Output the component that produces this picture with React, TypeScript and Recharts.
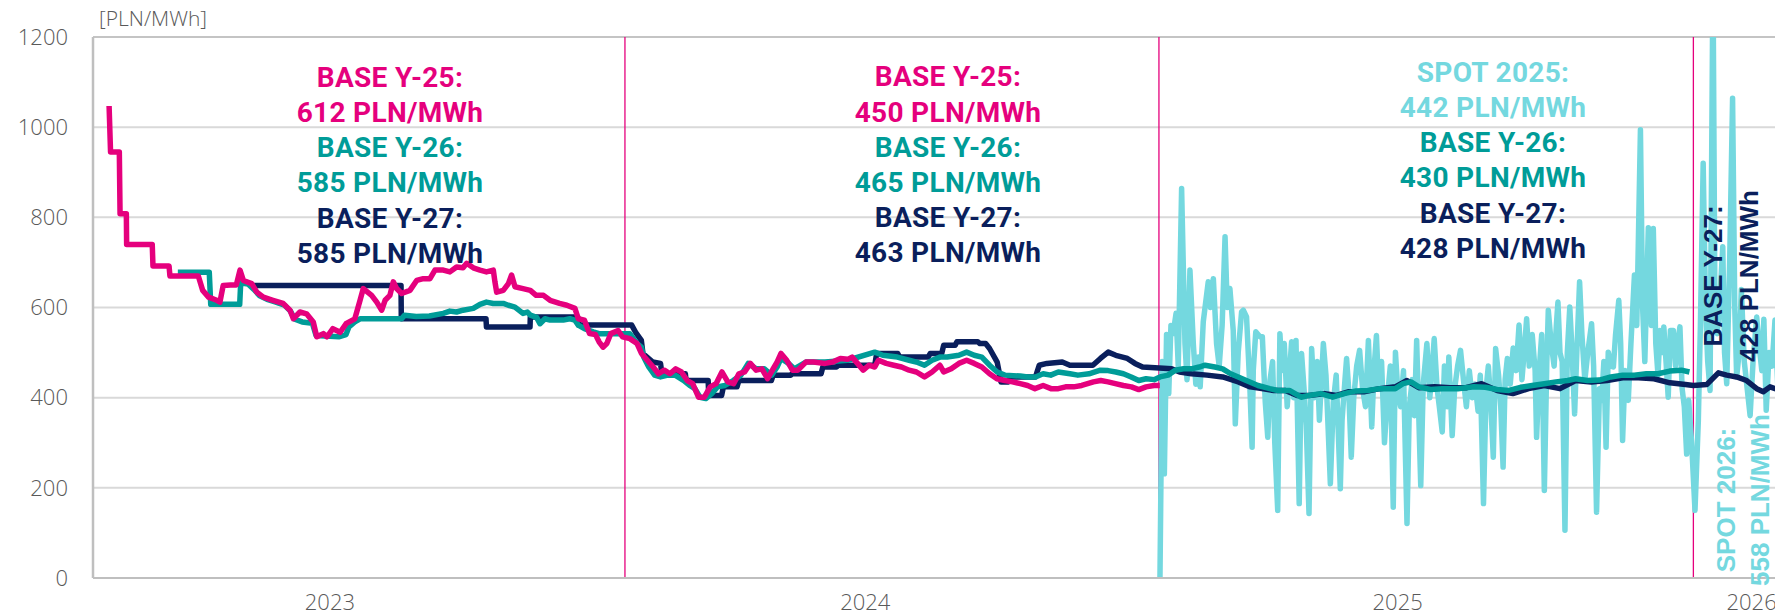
import React from 'react';
import {
    LineChart,
    Line,
    XAxis,
    YAxis,
    CartesianGrid,
    ReferenceLine
} from 'recharts';

const MAGENTA = '#E5007D';
const TEAL = '#009C98';
const NAVY = '#0A1F5C';
const CYAN = '#74D8DF';
const GREY = '#595959';

// x = days since 2023-01-01, y = PLN/MWh
const yearTicks = [162, 528, 892, 1134];
const yearLabels = ['2023', '2024', '2025', '2026'];
const yearStarts = [363.7, 728.8, 1094.2];
const priceTicks = [0, 200, 400, 600, 800, 1000, 1200];

const baseY25: [number, number][] = [
    [11, 1047], [12, 945], [18, 945], [18.5, 808], [22.8, 808], [23, 740], [40.5, 740], [41, 692], [52, 692], [52.6, 670],
    [72, 670], [75, 638], [79, 623], [84.6, 616], [86.8, 612], [89, 649], [94, 650], [98, 650], [100.5, 683], [102.8, 660],
    [108.5, 653], [112, 634], [116.5, 623], [123, 616], [130, 609], [134.7, 594], [137, 575], [141.5, 590], [146, 586], [150.6, 568],
    [153, 535], [157.5, 542], [160, 535], [164, 553], [169, 545], [173, 564], [179, 575], [182.6, 616], [184.8, 642], [190.5, 627],
    [194, 612], [197.4, 594], [199.7, 616], [203, 627], [205.3, 657], [207.6, 642], [211, 631], [216.7, 638], [221.3, 660], [225.8, 664],
    [230.4, 664], [233.8, 683], [239.5, 683], [244, 679], [248.6, 690], [253, 688], [255.5, 698], [260, 688], [264.6, 683], [269, 679],
    [273.7, 683], [274.8, 657], [276, 634], [280.5, 638], [284, 653], [286.2, 672], [288.5, 646], [294, 642], [299, 638], [303, 627],
    [308, 627], [312.5, 616], [319, 609], [324, 605], [329.5, 598], [331.8, 575], [336, 572], [339.5, 542], [343.5, 540], [346, 524],
    [348.7, 512], [351.3, 520], [354, 542], [359, 549], [362, 535], [367, 531], [372, 520], [375, 498], [379, 483], [383, 468],
    [386.6, 453], [390.6, 461], [394.5, 453], [398.4, 464], [402.3, 457], [406.3, 438], [410, 431], [414, 401], [418, 401], [422, 424],
    [426, 431], [430, 457], [434, 435], [438, 431], [441.6, 453], [445.5, 457], [449.4, 476], [453.4, 461], [457.3, 464], [461.2, 442],
    [465, 464], [467.7, 479], [470.4, 498], [474.3, 483], [478.2, 461], [482, 461], [487.4, 479], [492.6, 479], [500.5, 476], [505.7, 479],
    [511, 487], [516, 485], [519, 490], [522.7, 476], [526.6, 461], [530.5, 472], [534.5, 468], [537, 483], [542.3, 476], [547.5, 472],
    [552.8, 468], [558, 461], [563, 457], [568.5, 446], [573.7, 457], [579, 472], [581.6, 457], [586.8, 464], [592, 476], [597.3, 483],
    [602.5, 476], [607.7, 468], [613, 453], [618, 442], [623.4, 438], [628.7, 435], [634, 431], [639, 427], [644, 420], [649.6, 427],
    [655, 420], [660, 420], [665, 424], [670.5, 424], [676, 427], [684, 435], [689, 438], [694, 435], [699, 431], [704.5, 427],
    [710, 424], [715, 418], [720, 424], [725.5, 427], [729.4, 427]
];

const baseY26: [number, number][] = [
    [58, 678], [79.5, 678], [80.5, 607], [100.3, 607], [101, 655], [106, 652], [110, 640], [114, 626], [119, 618], [125, 612],
    [131, 605], [135, 592], [138, 574], [143, 568], [150, 565], [152.5, 538], [168, 535], [173, 540], [175, 557], [179, 568],
    [182.6, 575], [211, 575], [213, 583], [221, 580], [230, 581], [239.5, 587], [244, 592], [248.6, 590], [253, 594], [260, 598],
    [264.6, 607], [269, 612], [273.7, 609], [280.5, 609], [284, 605], [288.5, 601], [294, 587], [297, 590], [299, 583], [303.3, 578],
    [305.6, 564], [309, 575], [312.5, 572], [321.5, 572], [326, 575], [329.5, 572], [331.8, 561], [336, 553], [342, 546], [346, 542],
    [367, 542], [372, 520], [375, 512], [376.5, 490], [380, 468], [384, 450], [388, 446], [393, 450], [398, 450], [404, 438],
    [408, 427], [411.5, 420], [415, 401], [419, 398], [423, 409], [427, 424], [432, 427], [437.7, 438], [443, 450], [448, 476],
    [453.4, 464], [459, 464], [464, 450], [467.7, 468], [470.4, 487], [475.6, 476], [479.5, 464], [487.4, 479], [500.5, 479], [516, 483],
    [534.5, 501], [540, 494], [550, 490], [558, 483], [563, 479], [568.5, 472], [573.7, 483], [579, 490], [584, 490], [592, 494],
    [597.3, 501], [602.5, 494], [607.7, 490], [613, 472], [618.2, 457], [623.4, 450], [634, 448], [639, 446], [644.4, 446], [649.6, 453],
    [654.8, 450], [660, 457], [668, 453], [673.4, 450], [681, 453], [688.8, 461], [694, 460], [699.3, 457], [704.5, 453], [709.8, 446],
    [715, 438], [720, 442], [725.5, 440], [729.5, 446], [735, 450], [740, 461], [745.6, 464], [751, 464], [756.3, 468], [760.3, 472],
    [767, 468], [772.4, 464], [777.8, 453], [783, 446], [788.5, 438], [796.5, 427], [804.6, 420], [810, 416], [818, 416], [826, 401],
    [831.4, 405], [839.4, 409], [847.5, 401], [855.5, 409], [863.6, 415], [871.6, 416], [879.7, 420], [890.4, 420], [895.7, 431], [901.1, 435],
    [906.5, 424], [914.5, 418], [922.5, 420], [933.3, 420], [944, 424], [952, 423], [960, 418], [968, 416], [976, 423], [984, 427],
    [992.3, 431], [1000.3, 435], [1008.3, 438], [1013.7, 442], [1021.8, 438], [1029.8, 439], [1037.8, 446], [1045.9, 450], [1053.9, 450], [1062, 453],
    [1070, 453], [1078, 459], [1086, 461], [1091.5, 457]
];

const baseY27: [number, number][] = [
    [108, 649], [210.6, 649], [210.8, 575], [268.7, 575], [269, 557], [298.8, 557], [299, 579], [331.5, 579], [332, 561], [368.3, 561],
    [371, 545], [374.9, 527], [376, 498], [382.7, 479], [388, 476], [389, 453], [405, 453], [405.5, 438], [420.6, 438], [421, 405],
    [429.8, 405], [431, 424], [440.3, 424], [441.6, 438], [463.8, 438], [465, 450], [477, 450], [478, 453], [497.8, 453], [499, 468],
    [508.3, 468], [509.6, 472], [534.5, 472], [535.8, 498], [550.2, 498], [551.5, 490], [571, 490], [572.4, 498], [580.3, 498], [581.6, 516],
    [589.4, 516], [590.7, 524], [605, 524], [606.4, 520], [610.3, 520], [613, 509], [618.2, 479], [620.8, 435], [626, 435], [627.3, 446],
    [644.4, 446], [647, 472], [652.2, 476], [662.7, 479], [667.9, 472], [683.6, 472], [688.8, 487], [694.1, 501], [699.3, 494], [707.2, 487],
    [712.4, 476], [717.6, 468], [737.5, 464], [742.9, 457], [751, 453], [761.7, 450], [772.4, 446], [783.1, 435], [791.2, 424], [799.2, 420],
    [807.3, 416], [815.3, 416], [823.3, 405], [831.4, 405], [842.1, 409], [850.2, 405], [858.2, 413], [868.9, 413], [879.7, 420], [890.4, 424],
    [898.4, 438], [906.5, 422], [917.2, 424], [927.9, 422], [938.6, 422], [949.4, 431], [960.1, 416], [970.8, 409], [981.5, 420], [992.3, 427],
    [1003, 420], [1013.7, 438], [1024.4, 435], [1035.2, 438], [1045.9, 444], [1056.6, 444], [1067.3, 442], [1078.1, 433], [1088.8, 429], [1094.2, 427],
    [1103.3, 429], [1111.3, 455], [1117, 450], [1123.8, 446], [1130.6, 438], [1137.5, 420], [1142, 413], [1146.6, 424], [1152, 418]
];

const spot: [number, number][] = [
    [729.5, 0], [731, 480], [732.5, 231], [734, 540], [735.5, 409], [737, 560], [738.5, 542], [740.5, 587], [742, 470], [744.3, 864],
    [746.6, 520], [748, 440], [750, 683], [752.3, 520], [754, 430], [755.7, 490], [757, 424], [759.1, 568], [762.5, 657], [764, 600],
    [766, 664], [768.2, 520], [770, 470], [772, 560], [774, 757], [775.5, 600], [777.3, 642], [779.6, 549], [781, 342], [783, 500],
    [785.3, 590], [786.5, 594], [788.7, 579], [791, 420], [792.5, 290], [793.3, 461], [795, 546], [797.9, 535], [799.5, 535], [801.5, 390],
    [803.2, 312], [804.7, 438], [806.5, 480], [808, 300], [810, 150], [811.5, 542], [813, 460], [814.5, 520], [816.5, 380], [819.5, 524],
    [821, 400], [822.5, 527], [824.7, 165], [826.3, 498], [828, 420], [829.5, 340], [831.4, 143], [833.2, 509], [835, 400], [837, 480],
    [838.5, 350], [841.2, 520], [843, 450], [844.5, 330], [846, 209], [848, 390], [850, 450], [852.8, 198], [854, 350], [856, 440],
    [857.1, 487], [858.5, 420], [860.3, 268], [862, 400], [864, 470], [866, 505], [868, 420], [870, 380], [872, 527], [874.3, 335],
    [876, 470], [877.5, 538], [879, 420], [881, 480], [883, 300], [885, 400], [887, 470], [889, 157], [890.5, 501], [892, 420],
    [894, 380], [896, 460], [898.4, 121], [900, 380], [902, 440], [903.5, 360], [905, 527], [907.8, 205], [909.5, 430], [912, 520],
    [914, 400], [915.5, 460], [917, 531], [919, 420], [920.5, 380], [922.5, 324], [924, 470], [926, 380], [927, 490], [929.3, 316],
    [931, 420], [933, 470], [935, 505], [937, 440], [939, 380], [941, 460], [943, 400], [945, 430], [947, 370], [948.5, 450],
    [950.7, 165], [952.5, 420], [954, 470], [955.5, 400], [957.4, 268], [959, 509], [961, 450], [962.5, 380], [964.1, 246], [965.5, 440],
    [967, 487], [969, 430], [971, 510], [973, 460], [975, 561], [977, 440], [978.5, 500], [980.2, 575], [982, 470], [984, 540],
    [986, 460], [987, 312], [989, 470], [990.5, 540], [992.3, 194], [994, 480], [995, 594], [997, 520], [999, 470], [1000.5, 560],
    [1001.6, 612], [1003, 500], [1004.5, 480], [1006.4, 106], [1008, 500], [1009.7, 601], [1011, 520], [1013, 364], [1014.5, 500], [1016.4, 657],
    [1018, 540], [1020, 438], [1022, 500], [1024.6, 564], [1026, 470], [1028, 146], [1030, 420], [1031.5, 394], [1033, 480], [1034.5, 290],
    [1036, 501], [1038, 470], [1039.5, 468], [1041, 540], [1043.2, 616], [1044.5, 520], [1045.8, 305], [1047.5, 460], [1049.7, 394], [1051.5, 520],
    [1053.9, 672], [1055.5, 560], [1058, 994], [1059.5, 600], [1061, 480], [1063.4, 777], [1065.5, 560], [1066.8, 775], [1068.5, 520], [1070, 450],
    [1071.4, 549], [1073, 500], [1074, 557], [1075.5, 480], [1077, 401], [1078.5, 549], [1080.5, 549], [1082, 470], [1083.5, 520], [1085, 557],
    [1086.5, 420], [1088, 380], [1089.6, 275], [1091, 394], [1093, 300], [1095.3, 150], [1097.6, 350], [1099, 560], [1100.9, 920], [1102.5, 600],
    [1104, 480], [1105.6, 416], [1107.6, 1350], [1109, 560], [1110.5, 542], [1112, 600], [1114.3, 735], [1115.5, 500], [1117, 431], [1119, 700],
    [1121, 1064], [1122.5, 600], [1123.8, 446], [1125.5, 500], [1127, 640], [1129, 480], [1131, 420], [1133, 360], [1135, 480], [1137.5, 579],
    [1139, 520], [1141, 460], [1142.4, 574], [1144, 372], [1146, 500], [1148, 470], [1150, 572], [1152, 420]
];

const block1 = [
    ['BASE Y-25:', MAGENTA], ['612 PLN/MWh', MAGENTA],
    ['BASE Y-26:', TEAL], ['585 PLN/MWh', TEAL],
    ['BASE Y-27:', NAVY], ['585 PLN/MWh', NAVY]
];
const block2 = [
    ['BASE Y-25:', MAGENTA], ['450 PLN/MWh', MAGENTA],
    ['BASE Y-26:', TEAL], ['465 PLN/MWh', TEAL],
    ['BASE Y-27:', NAVY], ['463 PLN/MWh', NAVY]
];
const block3 = [
    ['SPOT 2025:', CYAN], ['442 PLN/MWh', CYAN],
    ['BASE Y-26:', TEAL], ['430 PLN/MWh', TEAL],
    ['BASE Y-27:', NAVY], ['428 PLN/MWh', NAVY]
];

const toRows = (pts: [number, number][]) => pts.map(([day, v]) => ({ day, v }));

const TextBlock = ({ x, y, rows }: { x: number; y: number; rows: string[][] }) => (
    <g>
        {rows.map(([t, c], i) => (
            <text
                key={i}
                x={x}
                y={y + i * 35.2}
                textAnchor="middle"
                fill={c}
                style={{ fontFamily: 'Roboto, sans-serif', fontWeight: 700, fontSize: 28, letterSpacing: 0.3 }}
            >
                {t}
            </text>
        ))}
    </g>
);

const RotatedPair = ({ x, y, lines, color, gap }: { x: number; y: number; lines: string[]; color: string; gap: number }) => (
    <g>
        {lines.map((t, i) => (
            <text
                key={i}
                x={x + i * gap}
                y={y}
                textAnchor="middle"
                fill={color}
                transform={`rotate(-90, ${x + i * gap}, ${y})`}
                style={{ fontFamily: '"Liberation Sans", Arial, sans-serif', fontWeight: 700, fontSize: 26 }}
            >
                {t}
            </text>
        ))}
    </g>
);

export default function App() {
    const tickStyle = { fontFamily: '"Open Sans", sans-serif', fontSize: 22, fill: GREY, fontWeight: 300 };
    const lineProps = { dot: false, strokeWidth: 5.5, strokeLinejoin: 'round' as const, isAnimationActive: false };
    return (
        <div style={{ position: 'absolute', left: 0, top: 0, width: 1775, height: 616, overflow: 'hidden', background: '#fff' }}>
            <LineChart width={1800} height={616} margin={{ top: 37, right: 0, bottom: 0, left: 0 }}>
                <CartesianGrid vertical={false} stroke="#D9D9D9" strokeWidth={2} />
                <XAxis
                    dataKey="day"
                    type="number"
                    domain={[0, 1167.1]}
                    allowDataOverflow
                    ticks={yearTicks}
                    tickFormatter={(_v, i) => yearLabels[i]}
                    tickLine={false}
                    axisLine={{ stroke: '#BFBFBF', strokeWidth: 2 }}
                    height={38}
                    tickMargin={10}
                    tick={tickStyle}
                />
                <YAxis
                    type="number"
                    domain={[0, 1200]}
                    allowDataOverflow
                    ticks={priceTicks}
                    width={93}
                    tickLine={false}
                    axisLine={{ stroke: '#BFBFBF', strokeWidth: 2.5 }}
                    tickMargin={19}
                    tick={tickStyle}
                />
                <ReferenceLine y={1200} stroke="#C4C4C4" strokeWidth={2} />
                {yearStarts.map((d) => (
                    <ReferenceLine key={d} x={d} stroke={MAGENTA} strokeWidth={1.3} />
                ))}
                <Line data={toRows(spot)} dataKey="v" name="SPOT" stroke={CYAN} strokeLinecap="round" {...lineProps} />
                <Line data={toRows(baseY27)} dataKey="v" name="BASE Y-27" stroke={NAVY} {...lineProps} />
                <Line data={toRows(baseY26)} dataKey="v" name="BASE Y-26" stroke={TEAL} {...lineProps} />
                <Line data={toRows(baseY25)} dataKey="v" name="BASE Y-25" stroke={MAGENTA} {...lineProps} />
            </LineChart>
            <svg width={1775} height={616} style={{ position: 'absolute', left: 0, top: 0, pointerEvents: 'none' }}>
                <text x={99} y={26} fill={GREY} style={{ fontFamily: '"Open Sans", sans-serif', fontSize: 21, fontWeight: 300 }}>
                    [PLN/MWh]
                </text>
                <TextBlock x={390} y={86.7} rows={block1} />
                <TextBlock x={948} y={86.3} rows={block2} />
                <TextBlock x={1493} y={81.7} rows={block3} />
                <RotatedPair x={1722} y={276} gap={36} lines={['BASE Y-27:', '428 PLN/MWh']} color={NAVY} />
                <RotatedPair x={1735} y={500} gap={34} lines={['SPOT 2026:', '558 PLN/MWh']} color={CYAN} />
            </svg>
        </div>
    );
}
